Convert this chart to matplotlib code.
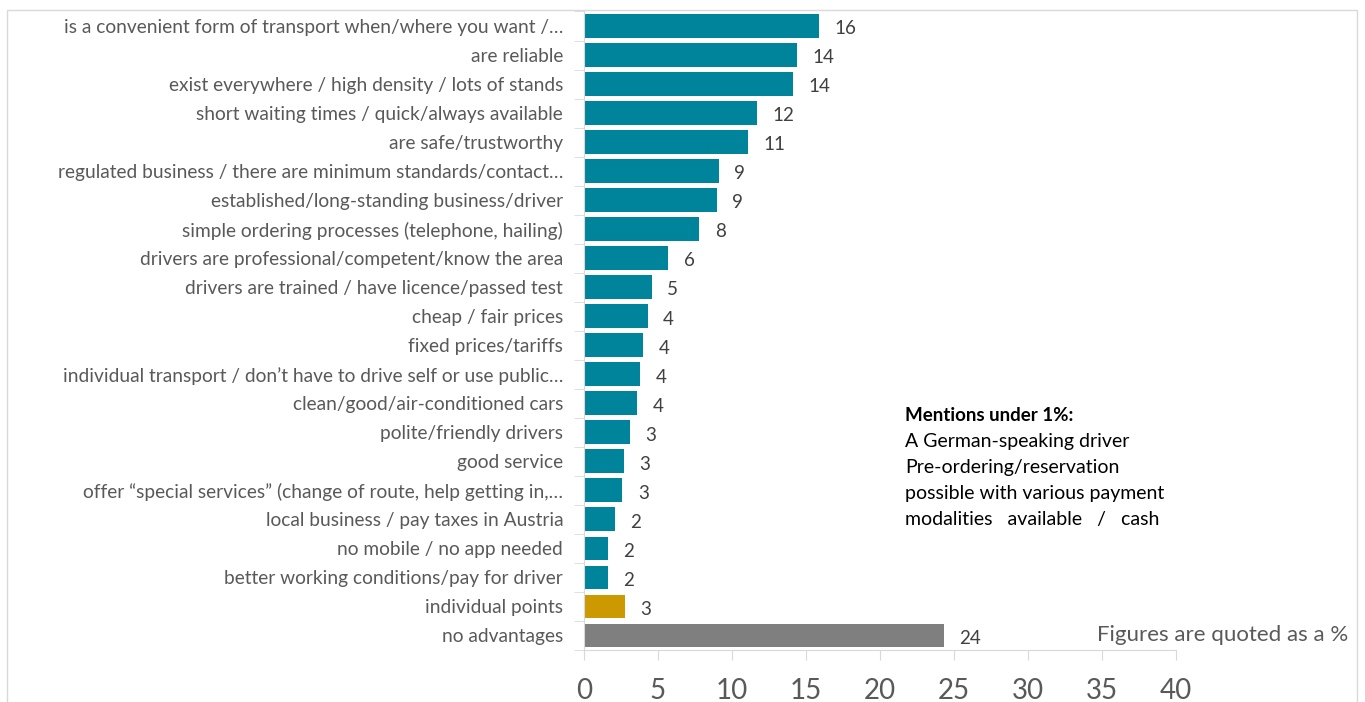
import numpy as np
import matplotlib.pyplot as plt
from matplotlib.patches import Rectangle

plt.rcParams["font.family"] = ["Lato", "DejaVu Sans"]

labels = [
    "is a convenient form of transport when/where you want /…",
    "are reliable",
    "exist everywhere / high density / lots of stands",
    "short waiting times / quick/always available",
    "are safe/trustworthy",
    "regulated business / there are minimum standards/contact…",
    "established/long-standing business/driver",
    "simple ordering processes (telephone, hailing)",
    "drivers are professional/competent/know the area",
    "drivers are trained / have licence/passed test",
    "cheap / fair prices",
    "fixed prices/tariffs",
    "individual transport / don\u2019t have to drive self or use public…",
    "clean/good/air-conditioned cars",
    "polite/friendly drivers",
    "good service",
    "offer \u201cspecial services\u201d (change of route, help getting in,…",
    "local business / pay taxes in Austria",
    "no mobile / no app needed",
    "better working conditions/pay for driver",
    "individual points",
    "no advantages",
]
values = [15.9, 14.4, 14.1, 11.7, 11.1, 9.1, 9.0, 7.8, 5.7, 4.6, 4.3,
          4.0, 3.8, 3.6, 3.1, 2.7, 2.6, 2.1, 1.6, 1.6, 2.8, 24.3]
groups = ["advantage"] * 20 + ["other", "none"]

colors = {"advantage": "#00849B", "other": "#CC9900", "none": "#7F7F7F"}
under_1 = [
    "A German-speaking driver",
    "Pre-ordering/reservation",
    "possible with various payment",
    "modalities   available   /   cash",
]

fig = plt.figure(figsize=(13.65, 7.02), dpi=100)
ax = fig.add_axes([584 / 1365, 1 - 650 / 702, (1176 - 584) / 1365, (650 - 11.5) / 702])

y = np.arange(len(labels))
ax.barh(y, values, height=0.82, color=[colors[g] for g in groups])
for yi, v in zip(y, values):
    ax.annotate(f"{v:.0f}", (v, yi), xytext=(11, -2), textcoords="offset points",
                va="center", ha="left", fontsize=13.5, color="#404040")

ax.set_ylim(len(labels) - 0.5, -0.5)
ax.set_xlim(0, 40)
ax.set_xticks(np.arange(0, 41, 5))
ax.tick_params(axis="x", length=7, color="#D9D9D9", labelsize=20,
               labelcolor="#595959", pad=13)

ax.set_yticks(y)
ax.set_yticklabels(labels, fontsize=13.8, color="#595959")
ax.tick_params(axis="y", length=0, pad=15)
# small gray separators between categories on the category axis
ax.set_yticks(np.arange(-0.5, len(labels)), minor=True)
ax.tick_params(axis="y", which="minor", length=7, color="#D9D9D9")

for s in ["top", "right"]:
    ax.spines[s].set_visible(False)
for s in ["left", "bottom"]:
    ax.spines[s].set_color("#D9D9D9")

fig.text(905 / 1365, 1 - 415 / 702, "Mentions under 1%:", fontsize=13.5,
         fontweight="bold", color="black", va="center")
for i, line in enumerate(under_1):
    fig.text(905 / 1365, 1 - (441 + 26 * i) / 702, line, fontsize=14,
             color="black", va="center")

fig.text(1348 / 1365, 1 - 635 / 702, "Figures are quoted as a %", fontsize=16,
         color="#595959", ha="right", va="center")

fig.patches.append(Rectangle((7 / 1365, -0.05), 1350 / 1365, 1.05 - 10 / 702,
                             transform=fig.transFigure, fill=False,
                             edgecolor="#D9D9D9", linewidth=1))

fig.savefig("out.png", dpi=100)
